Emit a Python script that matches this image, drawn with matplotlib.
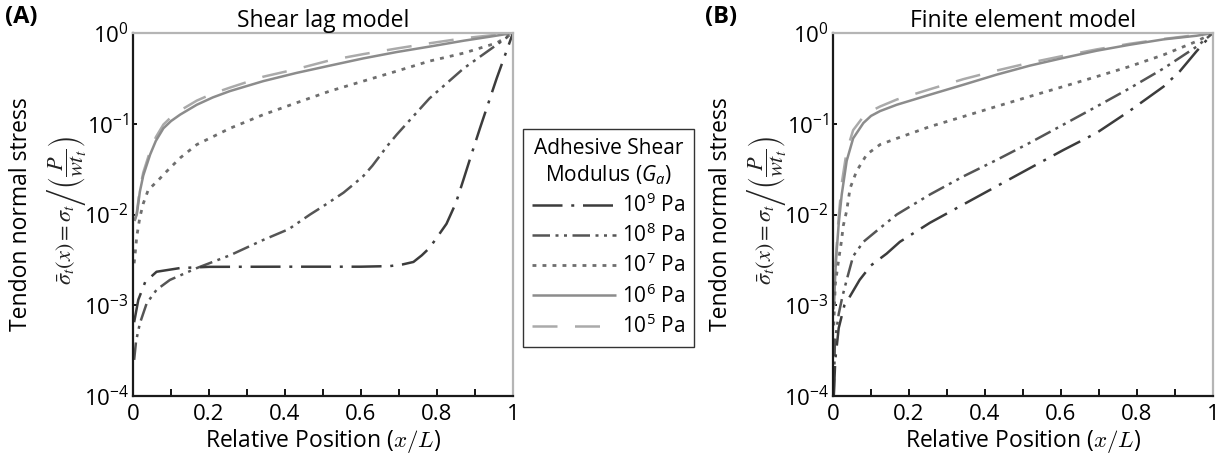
import matplotlib
matplotlib.use("Agg")
import matplotlib.pyplot as plt
from matplotlib.lines import Line2D
from matplotlib.ticker import FixedLocator, FixedFormatter

plt.rcParams['font.family'] = ['Open Sans', 'DejaVu Sans']
plt.rcParams['mathtext.fontset'] = 'custom'
plt.rcParams['mathtext.rm'] = 'Open Sans'
plt.rcParams['mathtext.it'] = 'Open Sans:italic'

# ---- panel A : shear lag model ----
a_x_1e9 = [0.003, 0.014, 0.032, 0.062, 0.124, 0.2, 0.4, 0.6, 0.676, 0.71, 0.738, 0.76, 0.78, 0.80, 0.825, 0.85, 0.87, 0.89, 0.913, 0.957, 1.0]
a_y_1e9 = [0.00065, 0.00115, 0.0018, 0.00234, 0.00257, 0.00265, 0.00266, 0.00266, 0.0027, 0.00282, 0.0030, 0.00355, 0.00427, 0.0056, 0.0079, 0.0135, 0.0245, 0.045, 0.0891, 0.316, 1.0]

a_x_1e8 = [0.003, 0.008, 0.018, 0.036, 0.062, 0.097, 0.168, 0.255, 0.343, 0.41, 0.466, 0.50, 0.554, 0.58, 0.606, 0.63, 0.65, 0.67, 0.694, 0.78, 0.87, 0.957, 1.0]
a_y_1e8 = [0.00025, 0.0004, 0.00063, 0.00105, 0.00148, 0.0019, 0.00257, 0.00355, 0.00525, 0.0069, 0.010, 0.0123, 0.0174, 0.0214, 0.0265, 0.0345, 0.0445, 0.0575, 0.0759, 0.19, 0.407, 0.741, 1.0]

a_x_1e7 = [0.003, 0.005, 0.01, 0.018, 0.027, 0.04, 0.067, 0.089, 0.124, 0.168, 0.255, 0.343, 0.43, 0.518, 0.606, 0.694, 0.78, 0.87, 0.957, 1.0]
a_y_1e7 = [0.0029, 0.00347, 0.00575, 0.0093, 0.0132, 0.0186, 0.024, 0.030, 0.042, 0.059, 0.089, 0.126, 0.17, 0.229, 0.295, 0.38, 0.49, 0.60, 0.776, 1.0]

a_x_1e6 = [0.004, 0.01, 0.018, 0.027, 0.045, 0.06, 0.08, 0.1, 0.124, 0.168, 0.21, 0.255, 0.343, 0.43, 0.518, 0.606, 0.694, 0.78, 0.87, 0.94, 1.0]
a_y_1e6 = [0.0085, 0.010, 0.0178, 0.0269, 0.0457, 0.0646, 0.0891, 0.107, 0.126, 0.162, 0.195, 0.229, 0.295, 0.363, 0.437, 0.525, 0.617, 0.708, 0.822, 0.912, 1.0]

a_x_1e5 = [0.004, 0.01, 0.018, 0.027, 0.045, 0.06, 0.08, 0.1, 0.124, 0.168, 0.21, 0.255, 0.343, 0.43, 0.518, 0.606, 0.694, 0.78, 0.87, 0.94, 1.0]
a_y_1e5 = [0.0085, 0.0105, 0.019, 0.029, 0.05, 0.071, 0.098, 0.118, 0.14, 0.18, 0.215, 0.25, 0.33, 0.40, 0.50, 0.585, 0.675, 0.77, 0.875, 0.94, 1.0]

# ---- panel B : finite element model ----
b_x_1e9 = [0.002, 0.006, 0.015, 0.03, 0.045, 0.07, 0.10, 0.141, 0.176, 0.255, 0.343, 0.43, 0.518, 0.606, 0.694, 0.78, 0.87, 0.913, 0.957, 1.0]
b_y_1e9 = [0.0001, 0.00025, 0.00056, 0.001, 0.00126, 0.0019, 0.00275, 0.0037, 0.005, 0.0081, 0.0129, 0.0204, 0.0324, 0.0513, 0.0794, 0.138, 0.257, 0.38, 0.631, 1.0]

b_x_1e8 = [0.002, 0.005, 0.015, 0.025, 0.036, 0.053, 0.08, 0.124, 0.168, 0.255, 0.343, 0.43, 0.518, 0.606, 0.694, 0.78, 0.87, 0.957, 1.0]
b_y_1e8 = [0.0001, 0.0004, 0.0008, 0.00126, 0.0019, 0.00347, 0.005, 0.0071, 0.010, 0.0166, 0.0263, 0.0398, 0.0617, 0.0977, 0.155, 0.245, 0.407, 0.708, 1.0]

b_x_1e7 = [0.002, 0.006, 0.015, 0.022, 0.027, 0.036, 0.045, 0.062, 0.089, 0.124, 0.168, 0.255, 0.343, 0.43, 0.518, 0.606, 0.694, 0.78, 0.87, 0.957, 1.0]
b_y_1e7 = [0.0006, 0.0017, 0.0032, 0.005, 0.0075, 0.011, 0.0195, 0.030, 0.046, 0.059, 0.069, 0.093, 0.12, 0.155, 0.20, 0.257, 0.331, 0.427, 0.575, 0.81, 1.0]

b_x_1e6 = [0.002, 0.008, 0.015, 0.023, 0.036, 0.053, 0.08, 0.1, 0.124, 0.168, 0.255, 0.343, 0.43, 0.518, 0.606, 0.694, 0.78, 0.87, 0.957, 1.0]
b_y_1e6 = [0.001, 0.0032, 0.0079, 0.0166, 0.039, 0.069, 0.102, 0.122, 0.138, 0.162, 0.209, 0.269, 0.347, 0.437, 0.531, 0.638, 0.741, 0.851, 0.933, 1.0]

b_x_1e5 = [0.002, 0.008, 0.015, 0.023, 0.036, 0.053, 0.08, 0.1, 0.124, 0.168, 0.255, 0.343, 0.43, 0.518, 0.606, 0.694, 0.78, 0.87, 0.957, 1.0]
b_y_1e5 = [0.0009, 0.0035, 0.0095, 0.022, 0.05, 0.085, 0.12, 0.138, 0.155, 0.185, 0.24, 0.31, 0.385, 0.47, 0.56, 0.66, 0.76, 0.86, 0.95, 1.0]

legend_labels = [r'$\mathregular{10^{9}}$ Pa', r'$\mathregular{10^{8}}$ Pa', r'$\mathregular{10^{7}}$ Pa',
                 r'$\mathregular{10^{6}}$ Pa', r'$\mathregular{10^{5}}$ Pa']
x_ticks = [0, 0.2, 0.4, 0.6, 0.8, 1]
x_tick_labels = ['0', '0.2', '0.4', '0.6', '0.8', '1']
y_ticks = [1e-4, 1e-3, 1e-2, 1e-1, 1]
y_tick_labels = [r'$\mathregular{10^{-4}}$', r'$\mathregular{10^{-3}}$', r'$\mathregular{10^{-2}}$',
                 r'$\mathregular{10^{-1}}$', r'$\mathregular{10^{0}}$']

# styles for 1e9 .. 1e5
colors = ['#3c3c3c', '#555555', '#6e6e6e', '#8c8c8c', '#aaaaaa']
widths = [1.8, 1.8, 2.0, 1.8, 1.8]
dashes = [(12, 3.5, 1.2, 3.5), (7, 2.2, 1.2, 2.2, 1.2, 2.2), (1.4, 2.2), None, (10, 7)]

fig = plt.figure(figsize=(12.25, 4.65), dpi=100)
ax_a = fig.add_axes([133/1225, 69/465, 380/1225, 363/465])
ax_b = fig.add_axes([833/1225, 69/465, 380/1225, 363/465])

panels = [
    (ax_a, 'Shear lag model', '(A)',
     [(a_x_1e9, a_y_1e9), (a_x_1e8, a_y_1e8), (a_x_1e7, a_y_1e7), (a_x_1e6, a_y_1e6), (a_x_1e5, a_y_1e5)]),
    (ax_b, 'Finite element model', '(B)',
     [(b_x_1e9, b_y_1e9), (b_x_1e8, b_y_1e8), (b_x_1e7, b_y_1e7), (b_x_1e6, b_y_1e6), (b_x_1e5, b_y_1e5)]),
]

for ax, title, tag, curves in panels:
    # draw lighter curves first so dark ones stay on top
    for i in [4, 3, 2, 1, 0]:
        xs, ys = curves[i]
        line, = ax.plot(xs, ys, color=colors[i], lw=widths[i], solid_capstyle='butt', dash_capstyle='butt')
        if dashes[i] is not None:
            line.set_dashes(dashes[i])
    ax.set_yscale('log')
    ax.set_xlim(0, 1)
    ax.set_ylim(1e-4, 1)
    ax.xaxis.set_major_locator(FixedLocator(x_ticks))
    ax.xaxis.set_major_formatter(FixedFormatter(x_tick_labels))
    ax.xaxis.set_minor_locator(FixedLocator([0.1, 0.3, 0.5, 0.7, 0.9]))
    ax.yaxis.set_major_locator(FixedLocator(y_ticks))
    ax.yaxis.set_major_formatter(FixedFormatter(y_tick_labels))
    ax.yaxis.set_minor_locator(FixedLocator([]))
    ax.tick_params(which='both', direction='in', length=5, width=1.3, color='black',
                   labelsize=16, top=False, right=False)
    ax.tick_params(axis='x', pad=6)
    ax.tick_params(axis='y', length=3, pad=3)
    for s in ['left', 'bottom']:
        ax.spines[s].set_linewidth(1.6)
        ax.spines[s].set_color('#1a1a1a')
    for s in ['top', 'right']:
        ax.spines[s].set_linewidth(1.6)
        ax.spines[s].set_color('#b5b5b5')
    ax.set_title(title, fontsize=16.5, pad=4)
    ax.set_xlabel(r'Relative Position ($x/L$)', fontsize=16.5, labelpad=1)
    ax.xaxis.get_label().set_math_fontfamily('cm')
    ax.text(-0.295, 0.5, 'Tendon normal stress', transform=ax.transAxes, rotation=90,
            ha='center', va='center', fontsize=16.5)
    ax.text(-0.174, 0.512, r'$\bar{\sigma}_t(x) = \sigma_t\left/\left(\dfrac{P}{wt_t}\right)\right.$',
            transform=ax.transAxes, rotation=90, ha='center', va='center', fontsize=16,
            math_fontfamily='stix', color='#222222')
    ax.text(-0.337, 1.044, tag, transform=ax.transAxes, fontsize=17, fontweight='bold',
            ha='left', va='center')

handles = []
for i in range(5):
    h = Line2D([], [], color=colors[i], lw=widths[i], solid_capstyle='butt', dash_capstyle='butt')
    if dashes[i] is not None:
        h.set_dashes(dashes[i])
    handles.append(h)

leg = fig.legend(handles, legend_labels, loc='upper left',
                 bbox_to_anchor=(523/1225, 1 - 129/465), borderaxespad=0,
                 title='Adhesive Shear\nModulus ($G_a$)', fontsize=15, title_fontsize=15,
                 handlelength=4.0, handletextpad=0.3, labelspacing=0.32,
                 frameon=True, fancybox=False, edgecolor='black', borderpad=0.45)
leg.get_frame().set_linewidth(1.0)
leg.get_title().set_multialignment('center')
leg.get_title().set_linespacing(1.2)

fig.savefig('out.png', dpi=100)
